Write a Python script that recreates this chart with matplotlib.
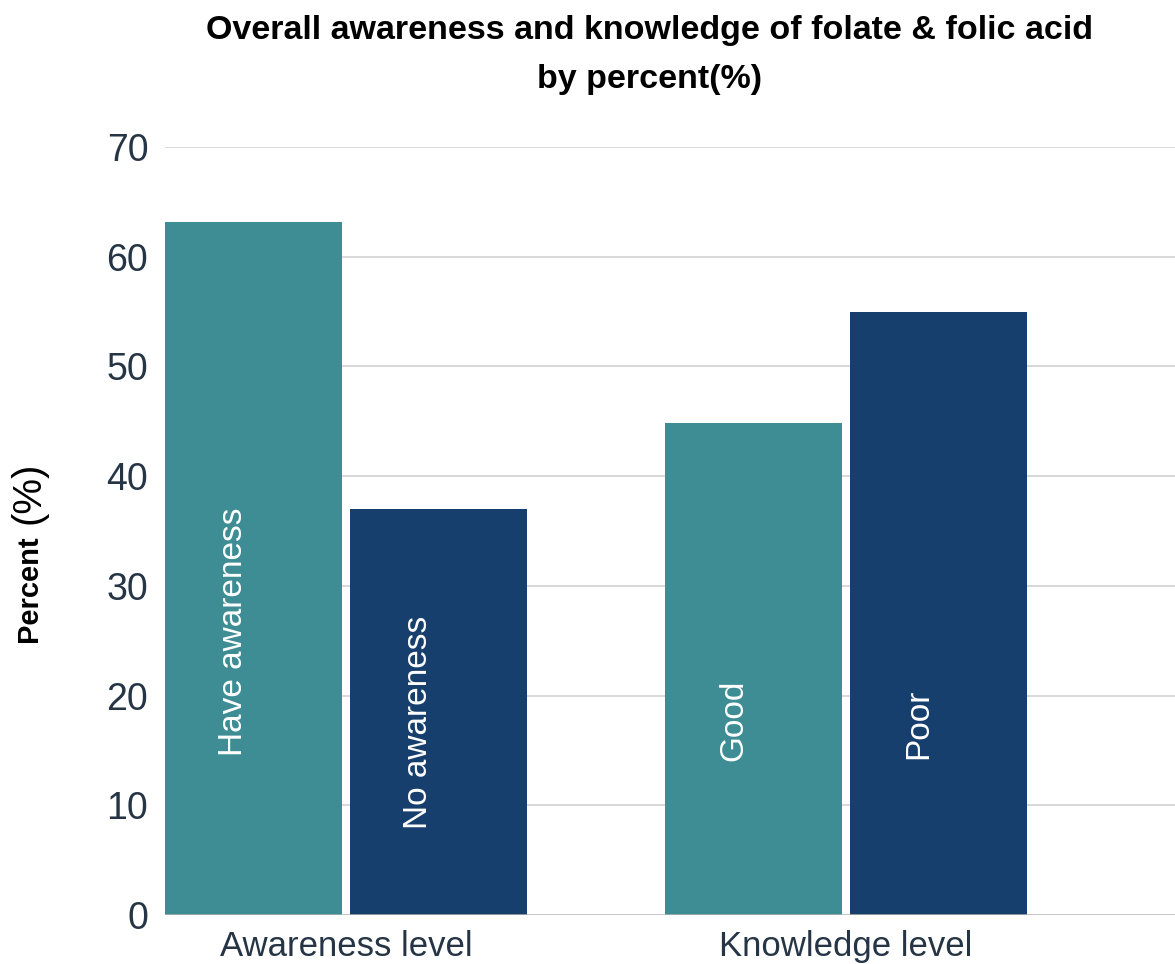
import matplotlib
matplotlib.use("Agg")
import matplotlib.pyplot as plt
import numpy as np

plt.rcParams['font.family'] = ['Liberation Sans', 'DejaVu Sans']

# percent of respondents in each group
groups = ['Awareness level', 'Knowledge level']
first_labels = ['Have awareness', 'Good']
second_labels = ['No awareness', 'Poor']
first_vals = [63.2, 44.8]
second_vals = [37.0, 55.0]

teal = '#3e8d95'
navy = '#173f6e'
tick_color = '#263545'

fig = plt.figure(figsize=(11.75, 9.64), dpi=100)
ax = fig.add_axes([0.1404, 0.0508, 0.8596, 0.7967])

x = np.arange(len(groups))
width = 0.354
off = 0.185
bars1 = ax.bar(x - off, first_vals, width, color=teal, zorder=3)
bars2 = ax.bar(x + off, second_vals, width, color=navy, zorder=3)

# category names written up the inside of each bar
label_bottoms = [[14.5, 14.0], [7.8, 14.2]]
for bars, names, bottoms in [(bars1, first_labels, label_bottoms[0]),
                             (bars2, second_labels, label_bottoms[1])]:
    for b, name, yb in zip(bars, names, bottoms):
        cx = b.get_x() + b.get_width() / 2 - 0.04
        ax.text(cx, yb, name, rotation=90, ha='center', va='bottom',
                color='white', fontsize=24, zorder=4)

ax.set_xlim(-0.362, 1.658)
ax.set_ylim(0, 70)
ax.set_yticks(range(0, 71, 10))
ax.set_xticks(x)
ax.set_xticklabels(groups)

for y in range(10, 71, 10):
    ax.axhline(y, color='#d6d6d6', lw=1.3, zorder=1)
ax.axhline(0, color='#b3b3b3', lw=1.8, zorder=5)

for s in ax.spines.values():
    s.set_visible(False)
ax.tick_params(axis='y', length=0, pad=12, labelsize=27, labelcolor=tick_color)
ax.tick_params(axis='x', length=0, pad=11, labelsize=25, labelcolor=tick_color)

fig.suptitle('Overall awareness and knowledge of folate & folic acid\nby percent(%)',
             x=0.553, y=1 - 55 / 964, va='center', fontsize=24.5,
             fontweight='bold', linespacing=1.72)

# y axis title: bold word, plain unit
fig.text(29 / 1175, 1 - 642 / 964, 'Percent', rotation=90, ha='center',
         va='bottom', fontsize=21, fontweight='bold')
fig.text(29 / 1175, 1 - 524 / 964, '(%)', rotation=90, ha='center',
         va='bottom', fontsize=29)

fig.savefig('out.png', dpi=100)
